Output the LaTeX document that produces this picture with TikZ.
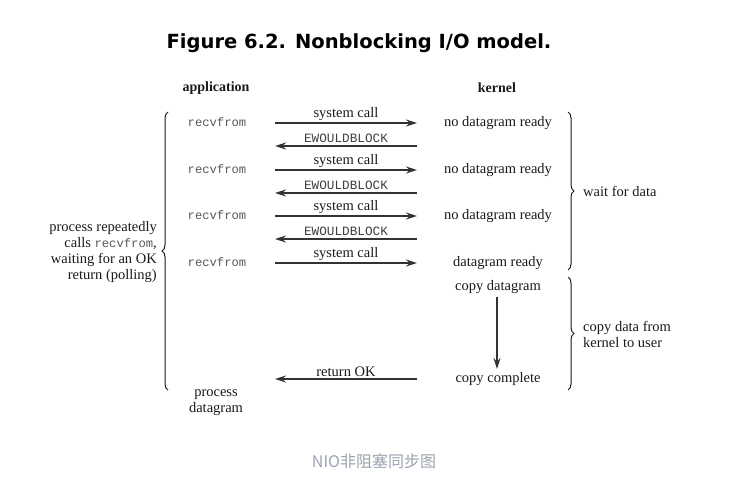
\documentclass[tikz,border=0pt]{standalone}
\usepackage{fontspec}
\setmainfont{Liberation Serif}
\newfontfamily\titlefont{DejaVu Sans}
\newfontfamily\codefont{Liberation Mono}
\newfontfamily\cjk{Noto Sans CJK SC}
\usetikzlibrary{arrows.meta,decorations.pathreplacing}
\definecolor{capcol}{HTML}{9AA3AF}
\definecolor{ink}{HTML}{1A1A1A}
\begin{document}
\begin{tikzpicture}[x=1pt,y=-1pt,
  lbl/.style={inner sep=0pt, text=ink, font=\fontsize{14.5}{16}\selectfont},
  head/.style={inner sep=0pt, text=ink, font=\bfseries\fontsize{14}{16}\selectfont},
  code/.style={inner sep=0pt, text=black!65, font=\codefont\fontsize{12.2}{14}\selectfont},
  err/.style={inner sep=0pt, text=black!75, font=\codefont\fontsize{12.7}{14}\selectfont},
  call/.style={draw=black!80, line width=1.4pt, -{Stealth[length=11pt,width=7pt]}},
  brc/.style={draw=ink, line width=1pt, decorate, decoration={brace, amplitude=6pt}}
]
\useasboundingbox[fill=white] (0,0) rectangle (752,481);

\node[inner sep=0pt, font=\titlefont\bfseries\fontsize{19.5}{22}\selectfont, text=black] (title) at (359,43) {Figure 6.2. Nonblocking I/O model.};

\node[head] (app) at (216,88) {application};
\node[head] (ker) at (497,88) {kernel};

% application side
\node[code] (r1) at (217,122) {recvfrom};
\node[code] (r2) at (217,169) {recvfrom};
\node[code] (r3) at (217,215) {recvfrom};
\node[code] (r4) at (217,262) {recvfrom};
\node[lbl, align=center] (proc) at (216,403) {process\\datagram};

% kernel side
\node[lbl] (k1) at (498,123) {no datagram ready};
\node[lbl] (k2) at (498,170) {no datagram ready};
\node[lbl] (k3) at (498,216) {no datagram ready};
\node[lbl] (k4) at (498,263) {datagram ready};
\node[lbl] (k5) at (498,287) {copy datagram};
\node[lbl] (k6) at (498,379) {copy complete};

% arrow end points
\foreach \n/\y in {1/123,2/170,3/216,4/263}{
  \coordinate (sL\n) at (275,\y);
  \coordinate (sR\n) at (417,\y);
}
\foreach \n/\y in {1/146,2/193,3/239}{
  \coordinate (eL\n) at (275,\y);
  \coordinate (eR\n) at (417,\y);
}
\coordinate (okL) at (275,379);
\coordinate (okR) at (417,379);
\coordinate (cpT) at (497,297);
\coordinate (cpB) at (497,369);

\foreach \n in {1,2,3,4}{
  \draw[call] (sL\n) -- node[lbl, above=1.5pt] {system call} (sR\n);
}
\foreach \n in {1,2,3}{
  \draw[call] (eR\n) -- node[err, above=3pt] {EWOULDBLOCK} (eL\n);
}
\draw[call] (okR) -- node[lbl, above=1.5pt] {return OK} (okL);
\draw[call] (cpT) -- (cpB);

% braces
\coordinate (b1T) at (568,112);
\coordinate (b1B) at (568,270);
\coordinate (b2T) at (568,277);
\coordinate (b2B) at (568,390);
\coordinate (b3T) at (168,112);
\coordinate (b3B) at (168,390);
\draw[brc] (b1T) -- (b1B);
\draw[brc] (b2T) -- (b2B);
\draw[brc] (b3B) -- (b3T);

\node[lbl, anchor=west] (wait) at (583,191) {wait for data};
\node[lbl, anchor=west, align=left] (copy) at (583,334) {copy data from\\kernel to user};
\node[lbl, anchor=east, align=right] (poll) at (157,252)
  {process repeatedly\\calls {\codefont\fontsize{12.2}{16}\selectfont\color{black!65}recvfrom},\\waiting for an OK\\return (polling)};

\node[inner sep=0pt, text=capcol, font=\cjk\fontsize{16}{18}\selectfont] (cap) at (374,461) {NIO非阻塞同步图};
\end{tikzpicture}
\end{document}
